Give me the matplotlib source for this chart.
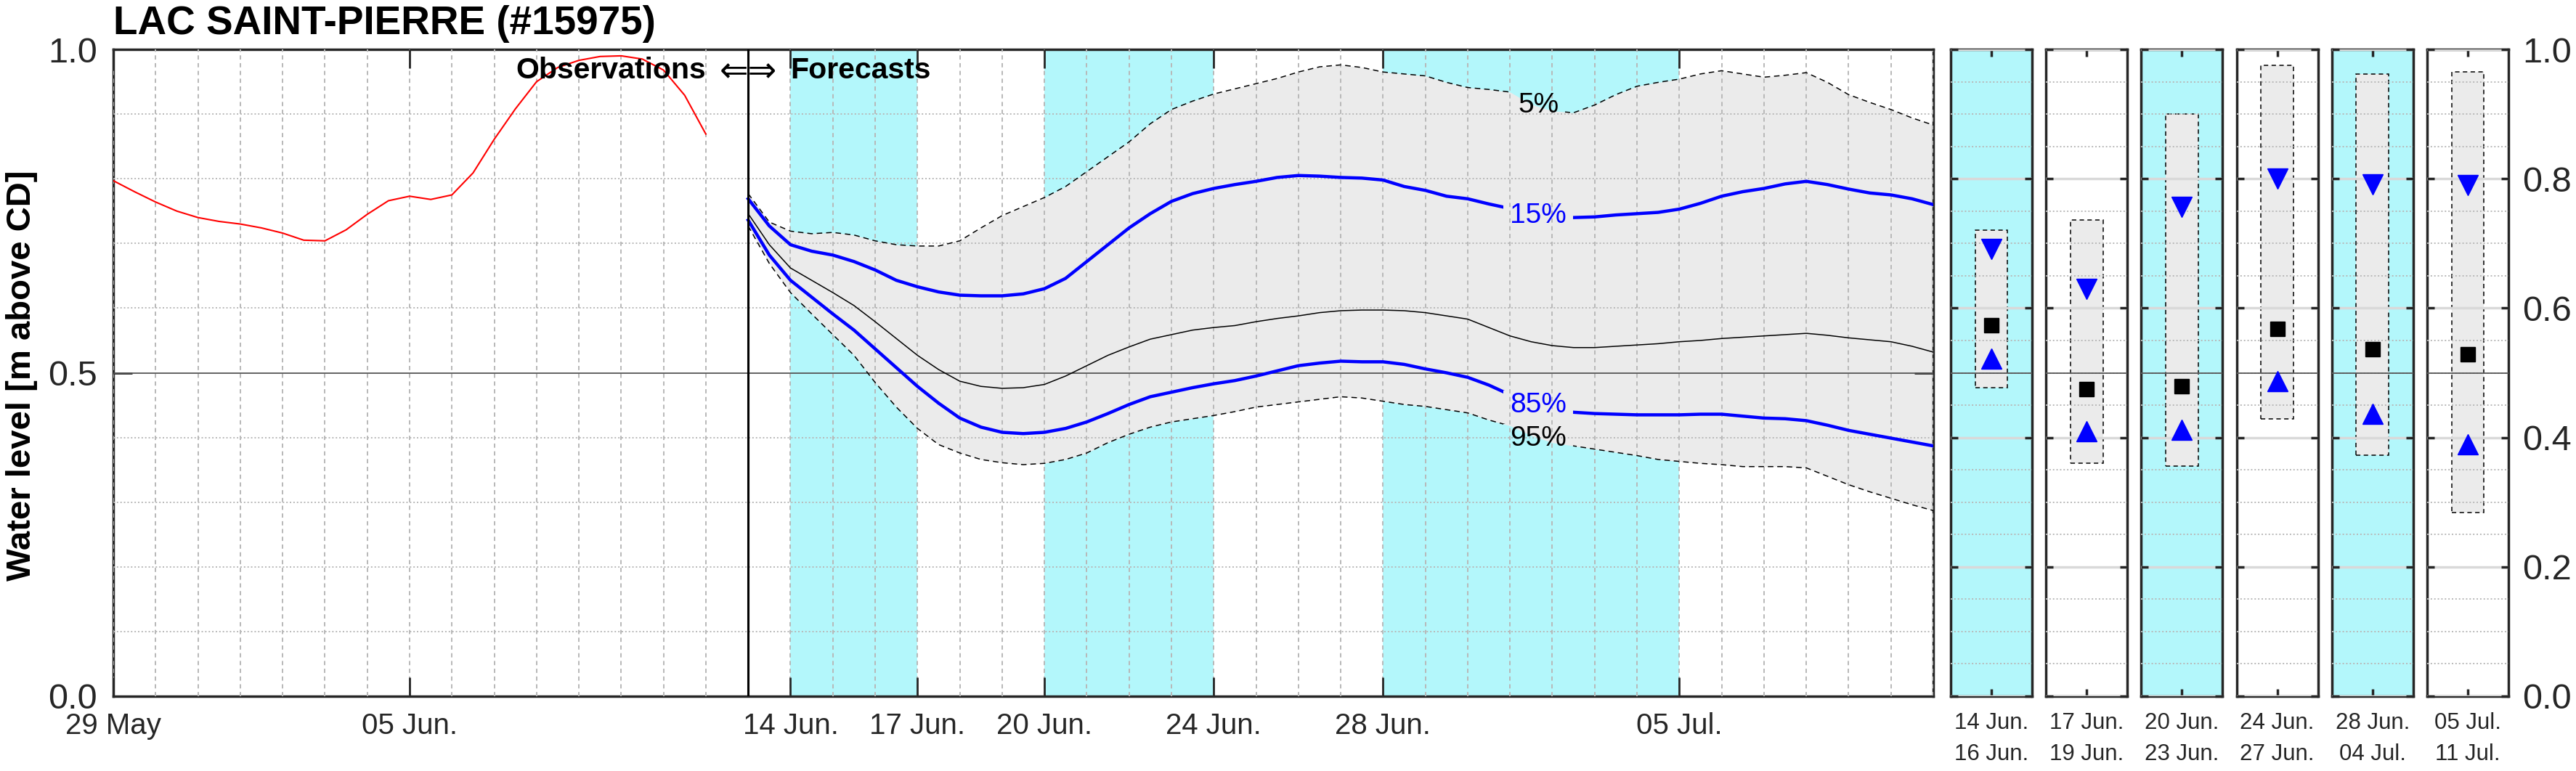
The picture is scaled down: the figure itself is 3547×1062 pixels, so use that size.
import numpy as np
import pandas as pd
import matplotlib
matplotlib.use('Agg')
import matplotlib.pyplot as plt
import matplotlib.dates as mdates
from matplotlib.ticker import MultipleLocator, FormatStrFormatter
from matplotlib.path import Path
from matplotlib.transforms import IdentityTransform

plt.rcParams['font.family'] = ['Liberation Sans', 'DejaVu Sans']

# observed water level [m above CD], every 12 h from 29 May
obs_start = '2019-05-29'
obs_level = [0.797, 0.780, 0.764, 0.750, 0.740, 0.734, 0.730, 0.724, 0.716, 0.705,
             0.704, 0.721, 0.745, 0.766, 0.773, 0.768, 0.775, 0.809, 0.861, 0.908,
             0.950, 0.972, 0.983, 0.989, 0.990, 0.985, 0.968, 0.929, 0.869]

# forecast quantiles, every 12 h from 13 Jun
fc_start = '2019-06-13'
q05 = [0.777, 0.733, 0.719, 0.715, 0.717, 0.713, 0.704, 0.698, 0.696, 0.696,
       0.704, 0.724, 0.743, 0.757, 0.771, 0.788, 0.811, 0.834, 0.857, 0.885,
       0.907, 0.920, 0.931, 0.939, 0.947, 0.955, 0.965, 0.973, 0.976, 0.972,
       0.965, 0.962, 0.959, 0.949, 0.941, 0.938, 0.934, 0.915, 0.905, 0.902,
       0.914, 0.930, 0.943, 0.949, 0.954, 0.962, 0.967, 0.962, 0.957, 0.960,
       0.964, 0.949, 0.930, 0.918, 0.907, 0.894, 0.883]
q15 = [0.769, 0.727, 0.698, 0.688, 0.682, 0.672, 0.659, 0.643, 0.633, 0.625,
       0.620, 0.619, 0.619, 0.622, 0.630, 0.646, 0.672, 0.698, 0.724, 0.746,
       0.765, 0.777, 0.785, 0.791, 0.796, 0.802, 0.805, 0.804, 0.802, 0.801,
       0.798, 0.788, 0.782, 0.773, 0.769, 0.761, 0.754, 0.746, 0.741, 0.740,
       0.741, 0.744, 0.746, 0.748, 0.753, 0.762, 0.773, 0.780, 0.785, 0.792,
       0.796, 0.791, 0.784, 0.778, 0.775, 0.769, 0.760]
q50 = [0.746, 0.698, 0.662, 0.643, 0.624, 0.604, 0.579, 0.553, 0.527, 0.505,
       0.487, 0.479, 0.476, 0.477, 0.482, 0.495, 0.511, 0.527, 0.540, 0.552,
       0.559, 0.566, 0.570, 0.573, 0.579, 0.584, 0.588, 0.593, 0.596, 0.597,
       0.597, 0.596, 0.593, 0.588, 0.583, 0.570, 0.557, 0.548, 0.542, 0.539,
       0.539, 0.541, 0.543, 0.545, 0.548, 0.550, 0.553, 0.555, 0.557, 0.559,
       0.561, 0.558, 0.554, 0.551, 0.548, 0.541, 0.532]
q85 = [0.736, 0.682, 0.643, 0.617, 0.591, 0.566, 0.537, 0.508, 0.479, 0.453,
       0.430, 0.416, 0.408, 0.406, 0.408, 0.414, 0.424, 0.437, 0.451, 0.463,
       0.470, 0.477, 0.483, 0.488, 0.495, 0.503, 0.511, 0.515, 0.518, 0.517,
       0.517, 0.513, 0.506, 0.500, 0.493, 0.481, 0.466, 0.453, 0.443, 0.439,
       0.437, 0.436, 0.435, 0.435, 0.435, 0.436, 0.436, 0.433, 0.430, 0.429,
       0.426, 0.419, 0.411, 0.405, 0.399, 0.393, 0.387]
q95 = [0.727, 0.669, 0.624, 0.591, 0.559, 0.527, 0.485, 0.447, 0.414, 0.389,
       0.376, 0.366, 0.361, 0.358, 0.360, 0.366, 0.376, 0.392, 0.405, 0.416,
       0.424, 0.429, 0.434, 0.440, 0.447, 0.451, 0.455, 0.459, 0.463, 0.461,
       0.456, 0.451, 0.448, 0.443, 0.438, 0.427, 0.418, 0.403, 0.392, 0.387,
       0.382, 0.377, 0.372, 0.366, 0.363, 0.360, 0.358, 0.355, 0.355, 0.355,
       0.353, 0.340, 0.327, 0.316, 0.306, 0.296, 0.287]

# shaded periods on the main chart
periods = [('2019-06-14', '2019-06-17'), ('2019-06-20', '2019-06-24'), ('2019-06-28', '2019-07-05')]

xtick_dates = ['2019-05-29', '2019-06-05', '2019-06-14', '2019-06-17', '2019-06-20',
               '2019-06-24', '2019-06-28', '2019-07-05']
xtick_labels = ['29 May', '05 Jun.', '14 Jun.', '17 Jun.', '20 Jun.', '24 Jun.', '28 Jun.', '05 Jul.']

# per-period summary panels
period_labels = ['14 Jun.\n16 Jun.', '17 Jun.\n19 Jun.', '20 Jun.\n23 Jun.',
                 '24 Jun.\n27 Jun.', '28 Jun.\n04 Jul.', '05 Jul.\n11 Jul.']
period_shaded = [True, False, True, False, True, False]
box_top = [0.721, 0.736, 0.900, 0.975, 0.962, 0.965]
box_bottom = [0.477, 0.360, 0.356, 0.429, 0.373, 0.284]
p_high = [0.691, 0.630, 0.756, 0.800, 0.791, 0.790]
p_mid = [0.574, 0.475, 0.479, 0.568, 0.537, 0.529]
p_low = [0.522, 0.410, 0.412, 0.487, 0.437, 0.390]

CYAN = '#b3f7fb'
FILL = '#ebebeb'
DARK = '#262626'
GRID = '#b8b8b8'

W, H = 3547, 1062
fig = plt.figure(figsize=(W / 100, H / 100), dpi=100)


def px_axes(x0, y0, x1, y1):
    return fig.add_axes([x0 / W, 1 - y1 / H, (x1 - x0) / W, (y1 - y0) / H])


def style_spines(a):
    for s in a.spines.values():
        s.set_linewidth(2.5)
        s.set_color(DARK)


# ---- main chart ----
ax = px_axes(156, 68, 2662, 959)
t_obs = pd.date_range(obs_start, periods=len(obs_level), freq='12h')
t_fc = pd.date_range(fc_start, periods=len(q50), freq='12h')

for a, b in periods:
    ax.axvspan(pd.Timestamp(a), pd.Timestamp(b), color=CYAN, lw=0, zorder=0)
ax.fill_between(t_fc, q95, q05, color=FILL, lw=0, zorder=1)
l05, = ax.plot(t_fc, q05, color='black', lw=1.1, ls=(0, (5, 3.5)), zorder=3)
l95, = ax.plot(t_fc, q95, color='black', lw=1.1, ls=(0, (5, 3.5)), zorder=3)
l15, = ax.plot(t_fc, q15, color='blue', lw=3.2, zorder=3)
l85, = ax.plot(t_fc, q85, color='blue', lw=3.2, zorder=3)
ax.plot(t_fc, q50, color='black', lw=1.1, zorder=3)
ax.plot(t_obs, obs_level, color='red', lw=1.5, zorder=3)
ax.axvline(pd.Timestamp(fc_start), color='black', lw=2.2, zorder=3)
ax.axhline(0.5, color='#555555', lw=1.3, zorder=2.6)

ax.set_xlim(pd.Timestamp('2019-05-29'), pd.Timestamp('2019-07-11'))
ax.set_ylim(0, 1)
ax.set_xticks(pd.to_datetime(xtick_dates))
ax.set_xticklabels(xtick_labels)
ax.xaxis.set_minor_locator(mdates.DayLocator())
ax.set_yticks([0, 0.5, 1.0])
ax.yaxis.set_major_formatter(FormatStrFormatter('%.1f'))
ax.yaxis.set_minor_locator(MultipleLocator(0.1))
ax.set_axisbelow(False)
ax.grid(which='both', axis='x', color=GRID, lw=1.4, ls=(0, (3, 2.5)))
ax.grid(which='minor', axis='y', color=GRID, lw=1.4, ls=(0, (1, 1.5)))
ax.tick_params(which='major', direction='in', length=19, width=2, top=True, right=True,
               pad=16, colors=DARK)
ax.tick_params(which='minor', length=0)
ax.tick_params(axis='x', labelsize=29)
ax.tick_params(axis='y', labelsize=35)
style_spines(ax)

txt_y = 0.968
ax.text(pd.Timestamp('2019-06-12'), txt_y, 'Observations', ha='right', va='center',
        fontsize=29.5, weight='bold', zorder=5)
ax.text(pd.Timestamp(fc_start), txt_y - 0.004, '\u21d0\u21d2', ha='center', va='center',
        fontsize=34, family=['DejaVu Sans'], zorder=5)
ax.text(pd.Timestamp('2019-06-14'), txt_y, 'Forecasts', ha='left', va='center',
        fontsize=29.5, weight='bold', zorder=5)

lab_x = pd.Timestamp('2019-07-01 16:00')
t05 = ax.text(lab_x, 0.914, '5%', ha='center', va='center', fontsize=28, color='black', zorder=5)
t15 = ax.text(lab_x, 0.743, '15%', ha='center', va='center', fontsize=28, color='blue', zorder=5)
t85 = ax.text(lab_x, 0.450, '85%', ha='center', va='center', fontsize=28, color='blue', zorder=5)
t95 = ax.text(lab_x, 0.398, '95%', ha='center', va='center', fontsize=28, color='black', zorder=5)

fig.text(156 / W, 1 - 47 / H, 'LAC SAINT-PIERRE (#15975)', fontsize=39.5, weight='bold',
         ha='left', va='baseline')
fig.text(30 / W, 1 - 517 / H, 'Water level [m above CD]', rotation=90, fontsize=34,
         weight='bold', ha='center', va='center')

# ---- period panels ----
for i in range(len(period_labels)):
    x0 = 2686 + i * 131.2
    pax = px_axes(x0, 68, x0 + 112, 959)
    if period_shaded[i]:
        pax.set_facecolor(CYAN)
    pax.bar(0, box_top[i] - box_bottom[i], bottom=box_bottom[i], width=0.4, color=FILL,
            edgecolor='black', linestyle=(0, (4, 3)), lw=1.1, zorder=1)
    pax.plot(0, p_high[i], 'v', color='blue', ms=20, zorder=4)
    pax.plot(0, p_low[i], '^', color='blue', ms=20, zorder=4)
    pax.plot(0, p_mid[i], 's', color='black', ms=15, zorder=4)
    pax.axhline(0.5, color='#555555', lw=1.3, zorder=2.6)
    pax.set_xlim(-0.5, 0.5)
    pax.set_ylim(0, 1)
    pax.set_xticks([0])
    pax.set_xticklabels([period_labels[i]])
    for lbl in pax.get_xticklabels():
        lbl.set_linespacing(1.55)
    pax.set_yticks(np.arange(0, 1.01, 0.2))
    pax.yaxis.set_major_formatter(FormatStrFormatter('%.1f'))
    pax.yaxis.set_minor_locator(MultipleLocator(0.05))
    pax.set_axisbelow(False)
    pax.grid(which='major', axis='y', color='#d9d9d9', lw=2.5)
    pax.grid(which='minor', axis='y', color=GRID, lw=1.4, ls=(0, (1, 1.5)))
    pax.tick_params(which='major', direction='in', length=7, width=2.5, top=True, right=True,
                    left=True, labelleft=False, labelright=(i == len(period_labels) - 1),
                    colors=DARK)
    pax.tick_params(axis='x', labelsize=22.5, pad=16)
    pax.tick_params(axis='y', labelsize=35, pad=14)
    pax.tick_params(which='minor', length=0)
    style_spines(pax)

# break the quantile lines behind their labels
fig.canvas.draw()
r = fig.canvas.get_renderer()
ab = ax.bbox
for line, txt in [(l05, t05), (l15, t15), (l85, t85), (l95, t95)]:
    bb = txt.get_window_extent(r)
    bx0, bx1, by0, by1 = bb.x0 - 9, bb.x1 + 9, bb.y0 - 2, bb.y1 + 2
    verts = [(ab.x0, ab.y0), (ab.x1, ab.y0), (ab.x1, ab.y1), (ab.x0, ab.y1), (ab.x0, ab.y0),
             (bx0, by0), (bx0, by1), (bx1, by1), (bx1, by0), (bx0, by0)]
    codes = [Path.MOVETO, Path.LINETO, Path.LINETO, Path.LINETO, Path.CLOSEPOLY] * 2
    line.set_clip_path(Path(verts, codes), IdentityTransform())

fig.savefig('out.png', dpi=100)
